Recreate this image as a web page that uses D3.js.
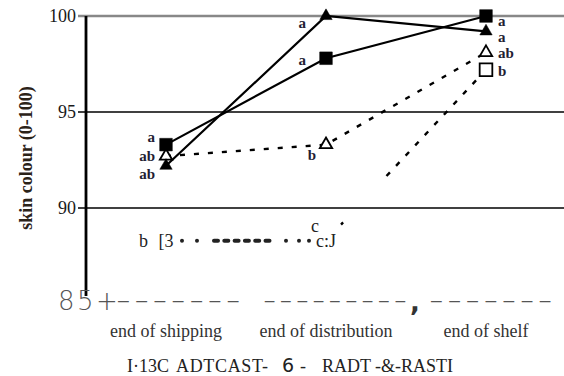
<!DOCTYPE html>
<html>
<head>
<meta charset="utf-8">
<style>
body { margin: 0; background: #fff; }
svg { display: block; }
.tick text { font-family: "Liberation Serif", serif; font-size: 18px; fill: #1a1a1a; }
.lbl { font-family: "Liberation Serif", serif; font-weight: bold; font-size: 15px; fill: #241e33; }
.glyph { font-family: "Liberation Serif", serif; font-size: 18px; fill: #222; }
.scan { font-family: "DejaVu Sans", sans-serif; font-size: 26px; font-weight: 200; fill: #555; }
.legend { font-family: "Liberation Serif", serif; font-size: 18px; fill: #222; }
</style>
<script src="https://d3js.org/d3.v7.min.js"></script>
</head>
<body>
<div id="chart"></div>
<script>
    // values
    var categories = ["end of shipping", "end of distribution", "end of shelf"];
    var yTicks = [90, 95, 100];
    var squareFilled = [93.3, 97.8, 100.0];
    var triangleFilled = [92.2, 100.0, 99.2];
    var triangleOpen = [92.7, 93.3, 98.1];
    var squareOpen = [88.3, 88.3, 97.2];

    var squareFilledLetters = ["a", "a", "a"];
    var triangleFilledLetters = ["ab", "a", "a"];
    var triangleOpenLetters = ["ab", "b", "ab"];
    var squareOpenLetters = ["b", "c", "b"];
    // the scan turned two of the open squares into characters
    var squareOpenGlyphs = ["[3", "c:J", null];

    var yTitle = "skin colour (0-100)";
    var bottomTick = "85+";
    var bottomRow = ["-------", "---------", ",", "-------"];
    var legendPieces = ["I·13C", "ADTCAST-", "6", "-", "RADT", "-&-RASTI"];

    var width = 564, height = 376;

    var svg = d3.select("#chart")
        .append("svg")
        .attr("width", width)
        .attr("height", height);

    var x = d3.scalePoint()
        .domain(categories)
        .range([166, 486]);

    var y = d3.scaleLinear()
        .domain([85, 100])
        .range([304, 16]);

    // horizontal lines
    svg.append("g")
        .selectAll("line")
        .data(yTicks)
        .enter()
        .append("line")
        .attr("x1", 78)
        .attr("x2", width)
        .attr("y1", function (d) { return y(d); })
        .attr("y2", function (d) { return y(d); })
        .attr("stroke", function (d) { return d == 100 ? "#888" : "#000"; })
        .attr("stroke-width", function (d) { return d == 100 ? 2.5 : 1.5; });

    // y axis labels
    var yAxis = svg.append("g")
        .attr("transform", "translate(86,0)")
        .call(d3.axisLeft(y).tickValues(yTicks).tickSize(0).tickPadding(10));
    yAxis.select(".domain").remove();

    svg.append("line")
        .attr("x1", 86).attr("x2", 86)
        .attr("y1", y(100)).attr("y2", 296)
        .attr("stroke", "#000")
        .attr("stroke-width", 2.8);

    // y title
    svg.append("text")
        .attr("transform", "translate(32," + 158 + ") rotate(-90)")
        .style("text-anchor", "middle")
        .style("font-family", "Liberation Serif, serif")
        .style("font-weight", "bold")
        .style("font-size", "18px")
        .style("fill", "#2b2218")
        .text(yTitle);

    // x labels
    svg.append("g")
        .selectAll("text")
        .data(categories)
        .enter()
        .append("text")
        .attr("x", function (d) { return x(d); })
        .attr("y", 337)
        .style("text-anchor", "middle")
        .style("font-family", "Liberation Serif, serif")
        .style("font-size", "18px")
        .style("fill", "#333")
        .text(function (d) { return d; });

    // the garbled axis row from the scan
    svg.append("text")
        .attr("class", "scan")
        .attr("x", 58).attr("y", 310)
        .style("letter-spacing", "2.5px")
        .text(bottomTick);
    // [x, textLength] for each piece of the row
    var rowPlace = [[116, 128], [263, 147], [410, null], [429, 127]];
    bottomRow.forEach(function (s, i) {
        var t = svg.append("text")
            .attr("class", "scan")
            .attr("x", rowPlace[i][0])
            .attr("y", s == "," ? 311 : 309)
            .text(s);
        if (rowPlace[i][1]) {
            t.style("letter-spacing", "2.2px")
             .attr("textLength", rowPlace[i][1])
             .attr("lengthAdjust", "spacingAndGlyphs");
        } else {
            t.style("font-weight", "bold").style("fill", "#333");
        }
    });

    // legend (garbled by the scan)
    var legendX = [127, 176, 282, 300, 322, 375];
    var legendW = [null, 92, null, null, null, null];
    var legend = svg.append("text")
        .attr("class", "legend")
        .attr("y", 372);
    legendPieces.forEach(function (s, i) {
        var ts = legend.append("tspan").attr("x", legendX[i]).text(s);
        if (legendW[i]) ts.attr("textLength", legendW[i]).attr("lengthAdjust", "spacing");
        if (s == "6") ts.style("font-family", "DejaVu Sans, sans-serif").style("font-size", "19px");
    });

    function pts(values) {
        return values.map(function (v, i) { return [x(categories[i]), y(v)]; });
    }
    var line = d3.line();

    // lines
    svg.append("path")
        .attr("d", line(pts(squareFilled)))
        .attr("fill", "none").attr("stroke", "#000").attr("stroke-width", 2.2);
    svg.append("path")
        .attr("d", line(pts(triangleFilled)))
        .attr("fill", "none").attr("stroke", "#000").attr("stroke-width", 2.2);
    svg.append("path")
        .attr("d", line(pts(triangleOpen)))
        .attr("fill", "none").attr("stroke", "#000").attr("stroke-width", 2.4)
        .attr("stroke-dasharray", "5,9");

    // open squares: row of dots, then a broken dotted climb
    var sq = pts(squareOpen);
    svg.append("path")
        .attr("d", line(sq.slice(0, 2)))
        .attr("fill", "none").attr("stroke", "#222").attr("stroke-width", 4)
        .attr("stroke-linecap", "round")
        .attr("stroke-dasharray", "0,15,0,17,4,6.3,4,6.3,4,6.3,4,6.3,4,6.3,4,16.5,0,13,0,10,0,200")
        .attr("stroke-dashoffset", -16);
    var climb = "0,22,3,63.5";
    for (var i = 0; i < 10; i++) climb += ",5,9";
    climb += ",0,100";
    svg.append("path")
        .attr("d", line(sq.slice(1, 3)))
        .attr("fill", "none").attr("stroke", "#000").attr("stroke-width", 2.4)
        .attr("stroke-dasharray", climb);

    // markers; skip points that have a glyph instead
    function markers(values, type, filled, skip) {
        svg.append("g")
            .selectAll("path")
            .data(pts(values).filter(function (d, i) { return !(skip && skip[i]); }))
            .enter()
            .append("path")
            .attr("transform", function (d) { return "translate(" + d[0] + "," + d[1] + ")"; })
            .attr("d", d3.symbol().type(type).size(type == d3.symbolSquare ? 160 : 66))
            .attr("fill", filled ? "#000" : "#fff")
            .attr("stroke", "#000")
            .attr("stroke-width", filled ? 0.5 : 1.8);
    }
    markers(triangleOpen, d3.symbolTriangle, false);
    markers(squareFilled, d3.symbolSquare, true);
    markers(triangleFilled, d3.symbolTriangle, true);
    markers(squareOpen, d3.symbolSquare, false, squareOpenGlyphs);

    svg.append("g")
        .selectAll("text")
        .data(squareOpenGlyphs)
        .enter()
        .filter(function (d) { return d; })
        .append("text")
        .attr("class", "glyph")
        .attr("x", function (d, i) { return x(categories[i]); })
        .attr("y", function (d, i) { return y(squareOpen[i]); })
        .attr("dy", "0.35em")
        .style("text-anchor", "middle")
        .text(function (d) { return d; });

    // letters next to the points: [dx, dy, anchor] per category
    function letters(values, txt, offs, cls) {
        svg.append("g")
            .selectAll("text")
            .data(values)
            .enter()
            .append("text")
            .attr("class", function (d, i) { return cls ? cls[i] : "lbl"; })
            .attr("x", function (d, i) { return x(categories[i]) + offs[i][0]; })
            .attr("y", function (d, i) { return y(d) + offs[i][1]; })
            .attr("dy", "0.35em")
            .style("text-anchor", function (d, i) { return offs[i][2]; })
            .text(function (d, i) { return txt[i]; });
    }
    letters(squareFilled, squareFilledLetters, [[-11, -8, "end"], [-20, 2, "end"], [12, 5, "start"]]);
    letters(triangleFilled, triangleFilledLetters, [[-11, 8, "end"], [-20, 7, "end"], [12, 5, "start"]]);
    letters(triangleOpen, triangleOpenLetters, [[-11, 0, "end"], [-10, 10, "end"], [12, 0, "start"]]);
    letters(squareOpen, squareOpenLetters, [[-18, 0, "end"], [-7, -15, "end"], [12, 1, "start"]],
        ["glyph", "glyph", "lbl"]);
</script>
</body>
</html>
